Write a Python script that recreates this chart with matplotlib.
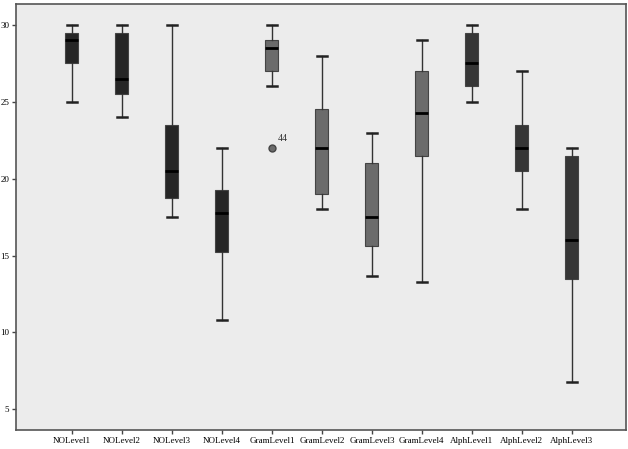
import matplotlib
matplotlib.use("Agg")
import matplotlib.pyplot as plt

# Five-number summaries
labels = ["NOLevel1", "NOLevel2", "NOLevel3", "NOLevel4",
          "GramLevel1", "GramLevel2", "GramLevel3", "GramLevel4",
          "AlphLevel1", "AlphLevel2", "AlphLevel3"]
whislo = [25, 24, 17.5, 10.8, 26, 18, 13.7, 13.3, 25, 18, 6.8]
q1 = [27.5, 25.5, 18.75, 15.25, 27, 19, 15.6, 21.5, 26, 20.5, 13.5]
med = [29, 26.5, 20.5, 17.75, 28.5, 22, 17.5, 24.25, 27.5, 22, 16]
q3 = [29.5, 29.5, 23.5, 19.25, 29, 24.5, 21, 27, 29.5, 23.5, 21.5]
whishi = [30, 30, 30, 22, 30, 28, 23, 29, 30, 27, 22]
outliers = {4: [22]}
outlier_ids = {4: ["44"]}

group_colors = {"NO": "#262626", "Gram": "#6b6b6b", "Alph": "#363636"}

plt.rcParams["font.family"] = ["Liberation Serif", "DejaVu Serif"]

fig = plt.figure(figsize=(6.28, 4.49), dpi=100)
ax = fig.add_axes([0.0255, 0.042, 0.971, 0.949])
ax.set_facecolor("#ececec")

stats = []
for i, lab in enumerate(labels):
    stats.append({
        "label": lab, "whislo": whislo[i], "q1": q1[i], "med": med[i],
        "q3": q3[i], "whishi": whishi[i], "fliers": outliers.get(i, []),
    })

positions = list(range(len(labels)))
bp = ax.bxp(stats, positions=positions, widths=0.26, patch_artist=True,
            showfliers=True,
            medianprops=dict(color="black", linewidth=2),
            whiskerprops=dict(color="#333333", linewidth=1),
            capprops=dict(color="#222222", linewidth=1.8),
            boxprops=dict(edgecolor="#444444", linewidth=0.8),
            flierprops=dict(marker="o", markersize=5, markerfacecolor="#6b6b6b",
                            markeredgecolor="#444444"))

for box, lab in zip(bp["boxes"], labels):
    for key, c in group_colors.items():
        if lab.startswith(key):
            box.set_facecolor(c)
# SPSS caps are narrower than the box
for cap in bp["caps"]:
    x0, x1 = cap.get_xdata()
    cx = (x0 + x1) / 2
    cap.set_xdata([cx - 0.1, cx + 0.1])

for i, ids in outlier_ids.items():
    for v, t in zip(outliers[i], ids):
        ax.annotate(t, (positions[i], v), xytext=(4, 5), textcoords="offset points",
                    fontsize=7, color="#333333")

ax.set_xlim(-1.12, 11.08)
ax.set_ylim(3.64, 31.36)
ax.set_yticks([5, 10, 15, 20, 25, 30])
ax.set_xticks(positions)
ax.set_xticklabels(labels)
ax.tick_params(axis="both", labelsize=6.5, length=3, width=1, color="#444444", pad=2)

for side in ["left", "right", "top", "bottom"]:
    ax.spines[side].set_color("#555555")
    ax.spines[side].set_linewidth(1.2)

fig.savefig("out.png", dpi=100, facecolor="white")
